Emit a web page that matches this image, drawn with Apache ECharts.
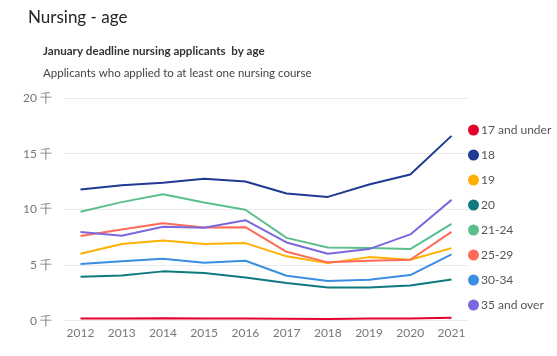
<!DOCTYPE html>
<html>
<head>
<meta charset="utf-8">
<script src="https://cdn.jsdelivr.net/npm/echarts@6/dist/echarts.min.js"></script>
<style>
html,body{margin:0;padding:0;background:#fff;}
#chart{width:557px;height:356px;}
</style>
</head>
<body>
<div id="chart"></div>
<script>
var years = [2012, 2013, 2014, 2015, 2016, 2017, 2018, 2019, 2020, 2021];
var seriesNames = ['17 and under', '18', '19', '20', '21-24', '25-29', '30-34', '35 and over'];
var age17under = [200, 200, 220, 200, 200, 180, 150, 200, 200, 270];
var age18 = [11780, 12170, 12380, 12740, 12500, 11420, 11120, 12230, 13130, 16600];
var age19 = [6010, 6880, 7210, 6880, 6970, 5780, 5170, 5710, 5470, 6520];
var age20 = [3950, 4070, 4430, 4280, 3890, 3380, 2990, 2990, 3170, 3710];
var age21to24 = [9780, 10650, 11360, 10620, 9960, 7440, 6580, 6520, 6430, 8700];
var age25to29 = [7600, 8200, 8760, 8380, 8400, 6190, 5240, 5380, 5470, 7980];
var age30to34 = [5090, 5330, 5560, 5200, 5380, 4040, 3560, 3680, 4100, 5950];
var age35over = [7960, 7630, 8430, 8340, 9030, 7030, 6010, 6430, 7750, 10850];
var yTicks = [0, 5000, 10000, 15000, 20000];
var colors = ['#e4002b', '#1f3a93', '#ffb000', '#0e7a80', '#5bbf8d', '#ff6b57', '#3b8ee0', '#7b68dd'];

var allValues = [age17under, age18, age19, age20, age21to24, age25to29, age30to34, age35over];

var chart = echarts.init(document.getElementById('chart'));
var series = seriesNames.map(function (name, i) {
  return {
    name: name,
    type: 'line',
    showSymbol: false,
    symbol: 'circle',
    lineStyle: { width: 2, color: colors[i] },
    itemStyle: { color: colors[i] },
    data: years.map(function (y, j) { return [y, allValues[i][j]]; })
  };
});

var FONT = 'Lato, Open Sans, sans-serif';
chart.setOption({
  animation: false,
  textStyle: { fontFamily: FONT },
  title: [
    { text: 'Nursing - age', left: 28, top: 9, padding: 0,
      textStyle: { fontSize: 17, fontWeight: 'normal', color: '#252423', fontFamily: FONT } },
    { text: 'January deadline nursing applicants  by age', left: 43, top: 45, padding: 0,
      textStyle: { fontSize: 11.6, fontWeight: 'bold', color: '#333', fontFamily: FONT } },
    { text: 'Applicants who applied to at least one nursing course', left: 43, top: 67, padding: 0,
      textStyle: { fontSize: 11.5, fontWeight: 'normal', color: '#444', fontFamily: FONT } }
  ],
  legend: {
    orient: 'vertical',
    left: 463,
    top: 119,
    icon: 'circle',
    itemWidth: 11,
    itemHeight: 11,
    itemGap: 13,
    textStyle: { fontSize: 12, color: '#555', padding: [0, 0, 0, -3], fontFamily: FONT },
    data: seriesNames
  },
  grid: { left: 64, right: 89, top: 98, bottom: 35.3, containLabel: false },
  xAxis: {
    type: 'value',
    min: 2011.6,
    max: 2021.4,
    interval: 0.2,
    axisLine: { show: false },
    axisTick: { show: false },
    splitLine: { show: false },
    axisLabel: {
      margin: 6,
      fontSize: 12,
      color: '#777',
      showMinLabel: true,
      showMaxLabel: true,
      formatter: function (v) {
        var r = Math.round(v);
        return (Math.abs(v - r) < 1e-6 && years.indexOf(r) >= 0) ? String(r) : '';
      }
    }
  },
  yAxis: {
    type: 'value',
    min: yTicks[0],
    max: yTicks[yTicks.length - 1],
    interval: 5000,
    axisLine: { show: false },
    axisTick: { show: false },
    splitLine: { lineStyle: { color: '#ebebeb', width: 1 } },
    axisLabel: {
      margin: 12,
      fontSize: 12,
      color: '#777',
      formatter: function (v) { return (v / 1000) + ' 千'; }
    }
  },
  series: series
});
</script>
</body>
</html>
